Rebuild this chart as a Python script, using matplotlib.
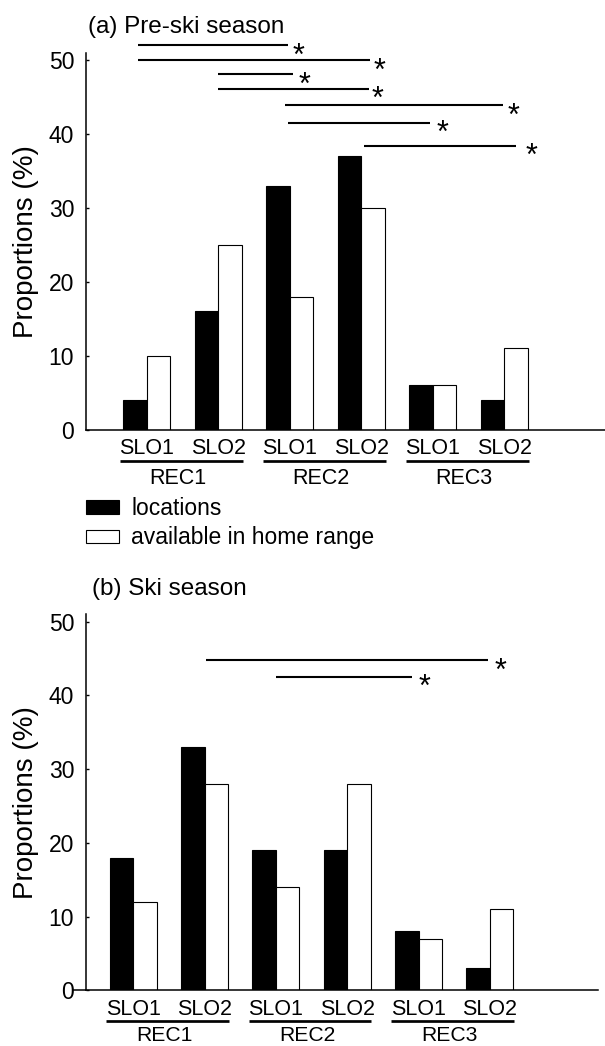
import matplotlib
matplotlib.use('Agg')
import matplotlib.pyplot as plt
import matplotlib.transforms as mtrans
import numpy as np

plt.rcParams['font.family'] = ['Liberation Sans', 'DejaVu Sans']

# ---------------- data ----------------
slope_labels = ['SLO1', 'SLO2', 'SLO1', 'SLO2', 'SLO1', 'SLO2']
rec_labels = ['REC1', 'REC2', 'REC3']
series_names = ['locations', 'available in home range']

pre_locations = [4, 16, 33, 37, 6, 4]
pre_available = [10, 25, 18, 30, 6, 11]
ski_locations = [18, 33, 19, 19, 8, 3]
ski_available = [12, 28, 14, 28, 7, 11]

y_ticks = [0, 10, 20, 30, 40, 50]

# significance brackets (x in group-position units, y in %)
pre_sig_start = [0.88, 0.88, 2.0, 2.0, 2.94, 2.97, 4.04]
pre_sig_end = [2.98, 4.12, 3.05, 4.11, 5.99, 4.96, 6.16]
pre_sig_y = [52.0, 50.0, 48.1, 46.1, 43.9, 41.5, 38.4]
pre_star_gap = [0.15, 0.14, 0.16, 0.12, 0.14, 0.18, 0.22]

ski_sig_start = [2.02, 3.0]
ski_sig_end = [5.98, 4.91]
ski_sig_y = [44.8, 42.55]
ski_star_gap = [0.17, 0.17]

# ---------------- layout ----------------
W, H = 605, 1046
PT = 0.72  # points per pixel at dpi 100
fig = plt.figure(figsize=(W / 100, H / 100), dpi=100)


def px_rect(l, r, b, t):
    return [l / W, 1 - b / H, (r - l) / W, (b - t) / H]


ax1 = fig.add_axes(px_rect(86, 605, 429.7, 52.8))
ax2 = fig.add_axes(px_rect(86, 597.7, 990.3, 614.4))

BAR_W = 0.33
STAR_FS = 22


def panel(ax, loc, avail, xlim, sig_s, sig_e, sig_y, star_gap, title, title_x,
          line_off_px, rec_off_px, rec_fs, ext_left=None):
    x = np.arange(1, len(loc) + 1)
    b1 = ax.bar(x - BAR_W / 2, loc, BAR_W, color='black', edgecolor='black',
                linewidth=0.8, label=series_names[0])
    b2 = ax.bar(x + BAR_W / 2, avail, BAR_W, color='white', edgecolor='black',
                linewidth=0.8, label=series_names[1])
    ax.set_xlim(*xlim)
    ax.set_ylim(0, 51)
    ax.set_yticks(y_ticks)
    ax.tick_params(axis='y', direction='in', length=2.5, width=1.0, pad=8.5,
                   labelsize=16.5)
    ax.set_xticks(x)
    ax.set_xticklabels(slope_labels)
    ax.tick_params(axis='x', length=0, pad=6, labelsize=15.5)
    for s in ['top', 'right']:
        ax.spines[s].set_visible(False)
    for s in ['left', 'bottom']:
        ax.spines[s].set_linewidth(1.1)
    if ext_left is not None:
        ax.plot([ext_left, xlim[0]], [0, 0], color='black', lw=1.1,
                clip_on=False, solid_capstyle='butt')

    ax.set_ylabel('Proportions (%)', fontsize=20)
    axw_px = ax.get_position().width * W
    ax.yaxis.set_label_coords(-(86 - 39) / axw_px, 0.5)

    # REC grouping underlines and labels
    off = mtrans.ScaledTranslation(0, -line_off_px / 100, fig.dpi_scale_trans)
    for k, rec in enumerate(rec_labels):
        g1, g2 = x[2 * k], x[2 * k + 1]
        ax.plot([g1 - 0.38, g2 + 0.34], [0, 0], color='black', lw=1.95,
                transform=ax.transData + off, clip_on=False, solid_capstyle='butt')
        ax.annotate(rec, xy=((g1 + g2) / 2 - 0.06, 0), xytext=(0, -rec_off_px * PT),
                    textcoords='offset points', ha='center', va='baseline',
                    fontsize=rec_fs, annotation_clip=False)

    # significance lines
    for s, e, yv, g in zip(sig_s, sig_e, sig_y, star_gap):
        ax.plot([s, e], [yv, yv], color='black', lw=1.5, clip_on=False,
                solid_capstyle='butt')
        ax.annotate('*', xy=(e + g, yv), xytext=(0, -(0.58 * STAR_FS + 1.2)),
                    textcoords='offset points', ha='center', va='baseline',
                    fontsize=STAR_FS, annotation_clip=False)

    ax_h_px = ax.get_position().height * H
    ax.text(title_x, 1 + 19.5 / ax_h_px, title, transform=ax.transAxes,
            ha='left', va='baseline', fontsize=17.5)
    return b1, b2


x1_left = 1 + (86 - 146.7) / 71.5
x1_right = 1 + (605 - 146.7) / 71.5
x2_left = 1 + (86 - 133.3) / 71.3
x2_right = 1 + (597.7 - 133.3) / 71.3
x2_ext = 1 + (73 - 133.3) / 71.3

h1, h2 = panel(ax1, pre_locations, pre_available, (x1_left, x1_right),
               pre_sig_start, pre_sig_end, pre_sig_y, pre_star_gap,
               '(a) Pre-ski season', 0.0044, 31.7, 54.3, 15.5)
panel(ax2, ski_locations, ski_available, (x2_left, x2_right),
      ski_sig_start, ski_sig_end, ski_sig_y, ski_star_gap,
      '(b) Ski season', 0.011, 30.5, 51.0, 15.2, ext_left=x2_ext)

fig.legend([h1, h2], series_names, loc='center left',
           bbox_to_anchor=(86 / W, 1 - 523.2 / H), frameon=False,
           fontsize=16.5, handlelength=1.44, handleheight=0.52,
           handletextpad=0.54, labelspacing=0.28, borderpad=0,
           borderaxespad=0)

fig.savefig('out.png', dpi=100)
